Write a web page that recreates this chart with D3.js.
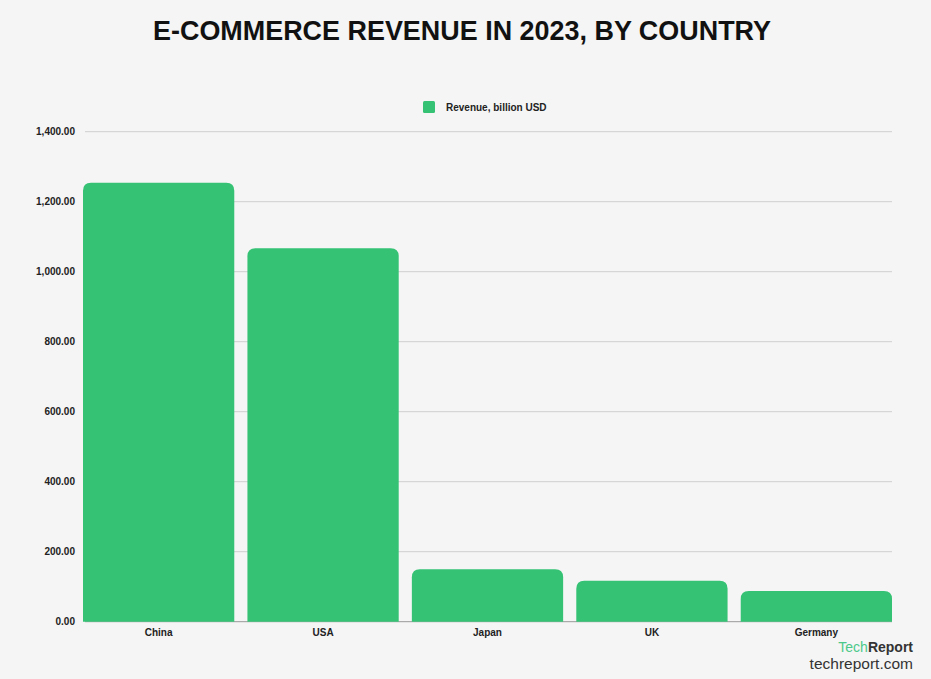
<!DOCTYPE html>
<html>
  <script src="https://d3js.org/d3.v7.js"></script>
  <style>
    body { margin: 0; background: #f5f5f5; }
    svg { display: block; }
  </style>
  <body>
    <svg id="chart" width="931" height="679"></svg>
    <script>
      // Data
      const countries = ["China", "USA", "Japan", "UK", "Germany"];
      const revenue = [1254, 1067, 150, 117, 88];
      const yTicks = [0, 200, 400, 600, 800, 1000, 1200, 1400];

      const width = 931, height = 679;
      const margin = { top: 131.7, right: 39, bottom: 57.3, left: 83 };
      const green = "#35c274";

      const svg = d3.select("#chart");

      svg.append("rect")
        .attr("width", width)
        .attr("height", height)
        .attr("fill", "#f5f5f5");

      // Title
      svg.append("text")
        .attr("x", 462)
        .attr("y", 40)
        .attr("text-anchor", "middle")
        .attr("font-family", "Liberation Sans, Arial, sans-serif")
        .attr("font-weight", "bold")
        .attr("font-size", 27)
        .attr("fill", "#111")
        .attr("textLength", 618)
        .attr("lengthAdjust", "spacingAndGlyphs")
        .text("E-COMMERCE REVENUE IN 2023, BY COUNTRY");

      // Legend
      svg.append("rect")
        .attr("x", 423)
        .attr("y", 101)
        .attr("width", 12)
        .attr("height", 12)
        .attr("rx", 1.5)
        .attr("fill", green);
      svg.append("text")
        .attr("x", 446)
        .attr("y", 111)
        .attr("font-family", "Liberation Sans, Arial, sans-serif")
        .attr("font-weight", "bold")
        .attr("font-size", 10)
        .attr("fill", "#222")
        .text("Revenue, billion USD");

      // Scales
      const x = d3.scaleBand()
        .domain(countries)
        .range([margin.left, width - margin.right])
        .paddingInner(0.08)
        .paddingOuter(0);

      const y = d3.scaleLinear()
        .domain([0, 1400])
        .range([height - margin.bottom, margin.top]);

      // Grid lines
      const g = svg.append("g");
      g.selectAll("line.grid")
        .data(yTicks)
        .enter()
        .append("line")
        .attr("class", "grid")
        .attr("x1", margin.left + 2)
        .attr("x2", width - margin.right)
        .attr("y1", d => y(d))
        .attr("y2", d => y(d))
        .attr("stroke", d => d === 0 ? "#999" : "#cfcfcf")
        .attr("stroke-width", 1);

      // Y axis labels
      const yAxis = svg.append("g")
        .attr("transform", "translate(" + (margin.left - 8) + ",0)")
        .call(d3.axisLeft(y).tickValues(yTicks).tickSize(0).tickPadding(0)
          .tickFormat(d3.format(",.2f")));
      yAxis.select(".domain").remove();
      yAxis.selectAll("text")
        .attr("font-family", "Liberation Sans, Arial, sans-serif")
        .attr("font-weight", "bold")
        .attr("font-size", 10)
        .attr("fill", "#222");

      // Bars with rounded top corners
      const r = 8;
      const data = countries.map((c, i) => ({ country: c, value: revenue[i] }));
      g.selectAll("path.bar")
        .data(data)
        .enter()
        .append("path")
        .attr("class", "bar")
        .attr("fill", green)
        .attr("d", d => {
          const x0 = x(d.country), w = x.bandwidth();
          const y0 = y(d.value), y1 = y(0);
          return "M" + x0 + "," + y1 +
            "V" + (y0 + r) +
            "Q" + x0 + "," + y0 + " " + (x0 + r) + "," + y0 +
            "H" + (x0 + w - r) +
            "Q" + (x0 + w) + "," + y0 + " " + (x0 + w) + "," + (y0 + r) +
            "V" + y1 + "Z";
        });

      // X axis labels
      const xAxis = svg.append("g")
        .attr("transform", "translate(0," + (height - margin.bottom) + ")")
        .call(d3.axisBottom(x).tickSize(0).tickPadding(7));
      xAxis.select(".domain").remove();
      xAxis.selectAll("text")
        .attr("font-family", "Liberation Sans, Arial, sans-serif")
        .attr("font-weight", "bold")
        .attr("font-size", 10)
        .attr("fill", "#222");

      // Logo
      const logo = svg.append("text")
        .attr("x", 913)
        .attr("y", 652)
        .attr("text-anchor", "end")
        .attr("font-family", "Liberation Sans, Arial, sans-serif")
        .attr("font-size", 14);
      logo.append("tspan").attr("fill", "#4cc98a").text("Tech");
      logo.append("tspan").attr("fill", "#333").attr("font-weight", "bold").text("Report");

      svg.append("text")
        .attr("x", 913)
        .attr("y", 669)
        .attr("text-anchor", "end")
        .attr("font-family", "Liberation Sans, Arial, sans-serif")
        .attr("font-size", 15.5)
        .attr("fill", "#333")
        .text("techreport.com");
    </script>
  </body>
</html>
